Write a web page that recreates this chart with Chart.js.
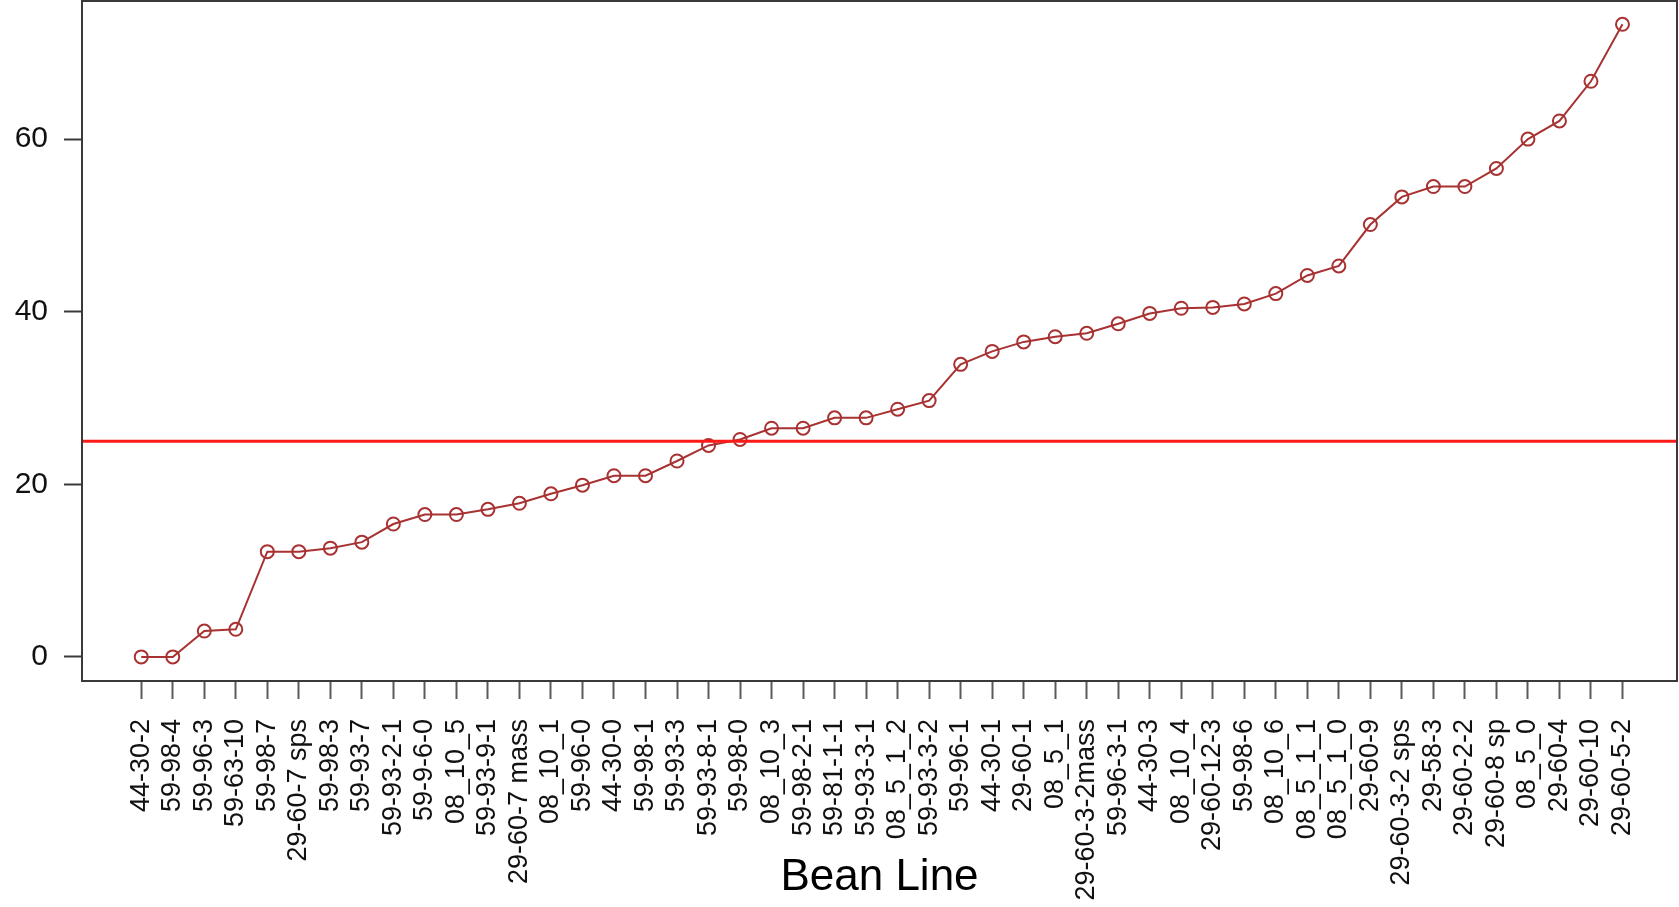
<!DOCTYPE html>
<html>
<head>
<meta charset="utf-8">
<script src="https://cdn.jsdelivr.net/npm/chart.js@4.4.1/dist/chart.umd.min.js"></script>
<style>
  html, body { margin: 0; padding: 0; background: #ffffff; }
  #wrap { width: 1679px; height: 907px; }
</style>
</head>
<body>
<div id="wrap"><canvas id="c" width="1679" height="907"></canvas></div>
<script>
// ---- data ----
const beanLines = [
  "44-30-2", "59-98-4", "59-96-3", "59-63-10", "59-98-7", "29-60-7 sps",
  "59-98-3", "59-93-7", "59-93-2-1", "59-9-6-0", "08_10_5", "59-93-9-1",
  "29-60-7 mass", "08_10_1", "59-96-0", "44-30-0", "59-98-1", "59-93-3",
  "59-93-8-1", "59-98-0", "08_10_3", "59-98-2-1", "59-81-1-1", "59-93-3-1",
  "08_5_1_2", "59-93-3-2", "59-96-1", "44-30-1", "29-60-1", "08_5_1",
  "29-60-3-2mass", "59-96-3-1", "44-30-3", "08_10_4", "29-60-12-3", "59-98-6",
  "08_10_6", "08_5_1_1", "08_5_1_0", "29-60-9", "29-60-3-2 sps", "29-58-3",
  "29-60-2-2", "29-60-8 sp", "08_5_0", "29-60-4", "29-60-10", "29-60-5-2"
];
const values = [
  0.0, 0.0, 3.0, 3.2, 12.2, 12.2,
  12.6, 13.3, 15.4, 16.5, 16.5, 17.1,
  17.8, 18.9, 19.9, 21.0, 21.0, 22.7,
  24.5, 25.2, 26.5, 26.5, 27.7, 27.7,
  28.7, 29.7, 33.9, 35.4, 36.5, 37.1,
  37.5, 38.6, 39.8, 40.4, 40.5, 40.9,
  42.1, 44.2, 45.3, 50.1, 53.3, 54.5,
  54.5, 56.6, 60.0, 62.1, 66.7, 73.3
];
const yTickValues = [0, 20, 40, 60];
const threshold = 25;
const xAxisTitle = "Bean Line";

// ---- axis ranges (R-style padding) ----
const X_MIN = -0.88, X_MAX = 49.73;
const Y_MIN = -2.79, Y_MAX = 76.0;

const seriesPoints = values.map((v, i) => ({ x: i + 1, y: v }));
const thresholdPoints = [{ x: X_MIN, y: threshold }, { x: X_MAX, y: threshold }];

const boxPlugin = {
  id: 'box',
  afterDatasetsDraw(chart) {
    const { ctx, chartArea: a } = chart;
    ctx.save();
    ctx.strokeStyle = '#3a3a3a';
    ctx.lineWidth = 2;
    ctx.strokeRect(a.left, a.top, a.right - a.left, a.bottom - a.top);
    ctx.restore();
  }
};

const FONT = "'Liberation Sans', Arial, Helvetica, sans-serif";

new Chart(document.getElementById('c'), {
  type: 'line',
  data: {
    datasets: [
      {
        label: 'threshold',
        data: thresholdPoints,
        borderColor: '#ff1a1a',
        borderWidth: 3,
        pointRadius: 0,
        fill: false,
        order: 0
      },
      {
        label: 'Bean Line',
        data: seriesPoints,
        borderColor: '#a83232',
        borderWidth: 2,
        pointStyle: 'circle',
        pointRadius: 6.5,
        pointBorderWidth: 2,
        pointBorderColor: '#a83232',
        pointBackgroundColor: 'rgba(0,0,0,0)',
        tension: 0,
        fill: false,
        order: 1
      }
    ]
  },
  options: {
    responsive: false,
    animation: false,
    devicePixelRatio: 1,
    layout: { autoPadding: false, padding: { top: 1, right: 2, left: 0, bottom: 0 } },
    plugins: {
      legend: { display: false },
      tooltip: { enabled: false },
      title: { display: false }
    },
    scales: {
      x: {
        type: 'linear',
        min: X_MIN,
        max: X_MAX,
        afterBuildTicks(scale) {
          scale.ticks = beanLines.map((_, i) => ({ value: i + 1 }));
        },
        afterFit(scale) {
          scale.height = 226;
          scale.paddingLeft = 0; scale.paddingRight = 0;
          scale.paddingTop = 0; scale.paddingBottom = 0;
        },
        ticks: {
          autoSkip: false,
          minRotation: 90,
          maxRotation: 90,
          padding: 20,
          color: '#111',
          font: { family: FONT, size: 27 },
          callback: (v) => beanLines[v - 1]
        },
        grid: {
          drawOnChartArea: false,
          drawTicks: true,
          tickLength: 18,
          tickColor: '#5a5a5a',
          tickWidth: 2
        },
        border: { display: false },
        title: {
          display: true,
          text: xAxisTitle,
          color: '#000',
          font: { family: FONT, size: 44 },
          padding: { top: 0, bottom: 3 }
        }
      },
      y: {
        type: 'linear',
        min: Y_MIN,
        max: Y_MAX,
        afterBuildTicks(scale) {
          scale.ticks = yTickValues.map(v => ({ value: v }));
        },
        afterFit(scale) {
          scale.width = 82;
          scale.paddingLeft = 0; scale.paddingRight = 0;
          scale.paddingTop = 0; scale.paddingBottom = 0;
        },
        ticks: {
          padding: 16,
          color: '#111',
          font: { family: FONT, size: 30 }
        },
        grid: {
          drawOnChartArea: false,
          drawTicks: true,
          tickLength: 18,
          tickColor: '#3a3a3a',
          tickWidth: 2
        },
        border: { display: false }
      }
    }
  },
  plugins: [boxPlugin]
});
</script>
</body>
</html>
